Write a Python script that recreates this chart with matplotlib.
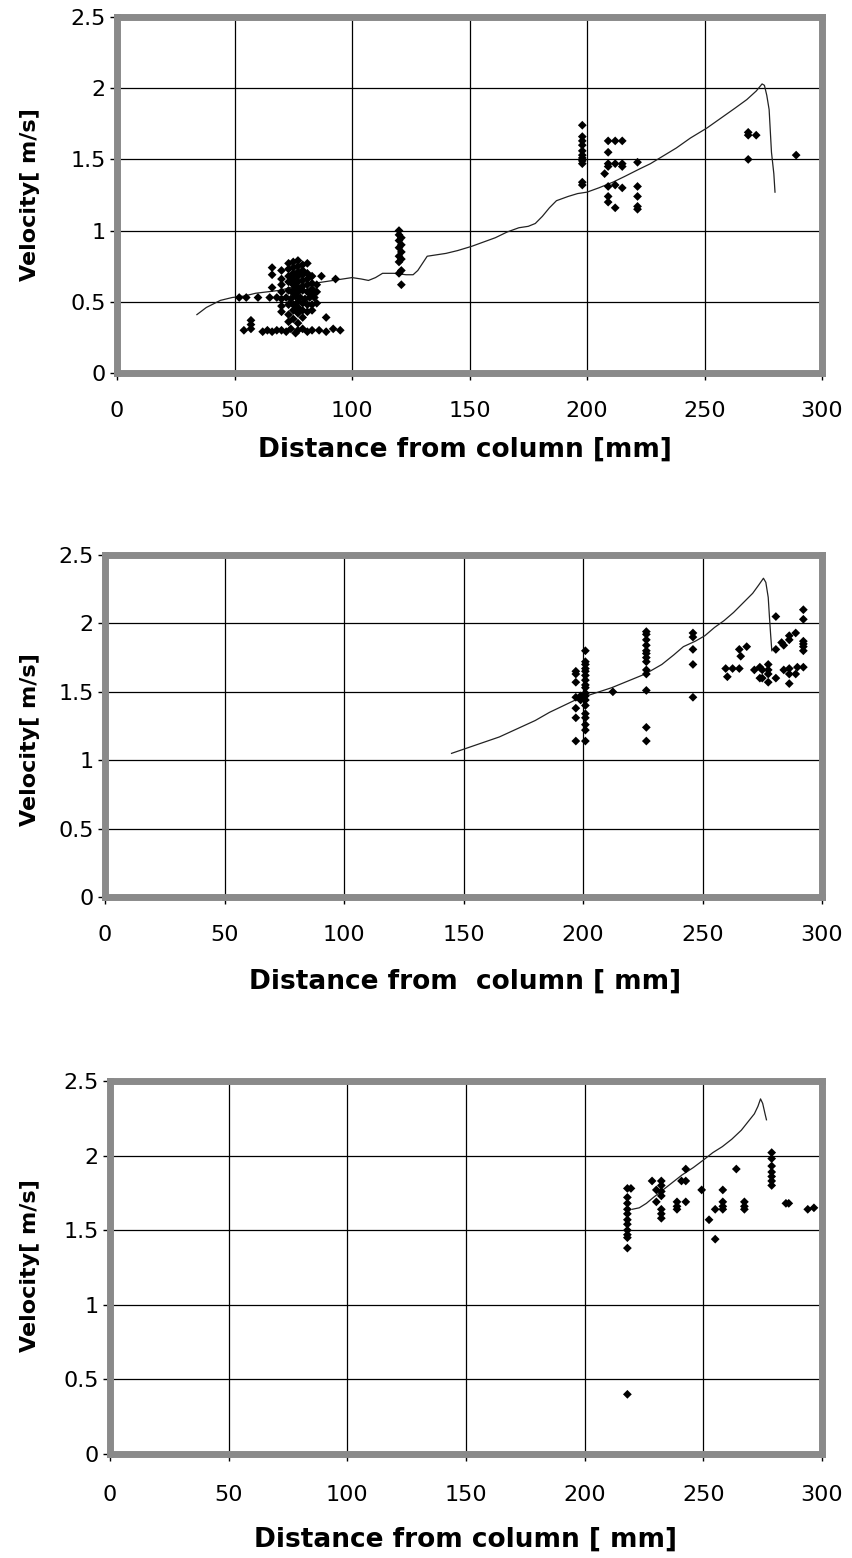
import matplotlib
matplotlib.use("Agg")
import matplotlib.pyplot as plt
from matplotlib.ticker import FuncFormatter

plt.rcParams['font.family'] = ['DejaVu Sans']

# ---------------- data ----------------
# Panel 1 scatter: (x position, [velocities]) columns
p1_cols = [
    (52, [0.53]), (54, [0.30]), (55, [0.53]), (57, [0.37, 0.34, 0.31]),
    (60, [0.53]), (62, [0.29]), (64, [0.30]), (65, [0.53]),
    (66, [0.74, 0.69, 0.60, 0.29]), (68, [0.53, 0.30]),
    (70, [0.72, 0.66, 0.62, 0.57, 0.52, 0.47, 0.43, 0.30]),
    (72, [0.53, 0.29]),
    (73, [0.77, 0.73, 0.68, 0.64, 0.58, 0.48, 0.41, 0.36]),
    (74, [0.52, 0.31]),
    (75, [0.78, 0.74, 0.70, 0.66, 0.62, 0.58, 0.56, 0.48, 0.44, 0.38]),
    (76, [0.54, 0.28]),
    (77, [0.79, 0.75, 0.71, 0.68, 0.64, 0.60, 0.57, 0.50, 0.46, 0.42, 0.35, 0.30]),
    (78, [0.53]),
    (79, [0.76, 0.72, 0.69, 0.65, 0.61, 0.58, 0.49, 0.44, 0.39, 0.31]),
    (80, [0.52]),
    (81, [0.77, 0.70, 0.66, 0.62, 0.57, 0.48, 0.43, 0.29]),
    (82, [0.53]),
    (83, [0.68, 0.63, 0.59, 0.55, 0.48, 0.44, 0.30]),
    (84, [0.53]),
    (85, [0.62, 0.57, 0.49]), (86, [0.30]), (87, [0.68]), (89, [0.39, 0.29]),
    (92, [0.31]), (93, [0.66]), (95, [0.30]),
    (120, [1.00, 0.97, 0.93, 0.88, 0.82, 0.78, 0.70]),
    (121, [0.95, 0.90, 0.85, 0.80, 0.72, 0.62]),
    (198, [1.74, 1.66, 1.63, 1.60, 1.56, 1.53, 1.51, 1.49, 1.47, 1.34, 1.32]),
    (207.5, [1.40]),
    (209, [1.63, 1.55, 1.47, 1.45, 1.31, 1.24, 1.20]),
    (212, [1.63, 1.47, 1.32, 1.16]),
    (215, [1.63, 1.47, 1.45, 1.30]),
    (221.5, [1.48, 1.31, 1.24, 1.17, 1.15]),
    (268.6, [1.69, 1.67, 1.50]), (272, [1.67]), (289, [1.53]),
]
p1_line_x = [34, 38, 44, 49, 54, 59, 64, 69, 74, 79, 84, 88, 92, 96, 100,
             104, 107, 110, 113, 118, 123, 126, 128, 130, 132, 136, 140,
             145, 151, 156, 161, 166, 171, 175, 178, 181, 184, 187, 192,
             196, 200, 205, 211, 216, 222, 227, 232, 238, 244, 251, 257,
             263, 268, 272, 274.5, 275.5, 276.5, 277.5, 278, 278.5, 279.5, 280]
p1_line_y = [0.41, 0.46, 0.51, 0.53, 0.54, 0.56, 0.57, 0.58, 0.60, 0.61,
             0.63, 0.64, 0.65, 0.66, 0.67, 0.66, 0.65, 0.67, 0.70, 0.70,
             0.69, 0.69, 0.72, 0.77, 0.82, 0.83, 0.84, 0.86, 0.89, 0.92,
             0.95, 0.99, 1.02, 1.03, 1.05, 1.10, 1.16, 1.21, 1.24, 1.26,
             1.27, 1.30, 1.34, 1.38, 1.43, 1.47, 1.52, 1.58, 1.65, 1.72,
             1.79, 1.86, 1.92, 1.98, 2.03, 2.02, 1.95, 1.85, 1.70, 1.55,
             1.40, 1.27]

p2_cols = [
    (197, [1.65, 1.63, 1.57, 1.46, 1.38, 1.31, 1.14]),
    (199, [1.47, 1.44]),
    (201, [1.80, 1.72, 1.70, 1.67, 1.65, 1.62, 1.585, 1.55, 1.53, 1.49,
           1.47, 1.44, 1.40, 1.34, 1.31, 1.26, 1.22, 1.14]),
    (212.5, [1.50]),
    (226.5, [1.94, 1.92, 1.88, 1.84, 1.80, 1.78, 1.75, 1.72, 1.66, 1.63,
             1.51, 1.24, 1.14]),
    (246, [1.93, 1.90, 1.81, 1.70, 1.46]),
    (259.7, [1.67]), (260.4, [1.61]), (262.6, [1.67]), (265.4, [1.81, 1.67]),
    (266, [1.76]), (268.5, [1.83]), (271.7, [1.66]), (274, [1.68, 1.60]),
    (275, [1.66, 1.60]), (277.5, [1.70, 1.66, 1.63, 1.57]),
    (280.7, [2.05, 1.81, 1.60]), (283.1, [1.86]), (284, [1.84, 1.66]),
    (286.3, [1.91, 1.88, 1.67, 1.63, 1.56]), (289, [1.93, 1.63]),
    (289.7, [1.68]), (292.2, [2.10, 2.03, 1.87, 1.85, 1.83, 1.80, 1.68]),
]
p2_line_x = [145, 150, 155, 160, 165, 170, 175, 180, 186, 192, 198, 205,
             212, 219, 226, 233, 238, 242, 247, 251, 255, 259, 263, 267,
             271, 273.5, 275.5, 276.5, 277.5, 278, 278.5, 279]
p2_line_y = [1.05, 1.08, 1.11, 1.14, 1.17, 1.21, 1.25, 1.29, 1.35, 1.40,
             1.45, 1.49, 1.53, 1.58, 1.63, 1.70, 1.77, 1.83, 1.87, 1.91,
             1.97, 2.02, 2.08, 2.15, 2.22, 2.28, 2.33, 2.30, 2.19, 2.05,
             1.92, 1.80]

p3_cols = [
    (218, [1.78, 1.72, 1.68, 1.64, 1.61, 1.57, 1.54, 1.50, 1.47, 1.45,
           1.38, 0.40]),
    (219.5, [1.78]),
    (228.4, [1.83]), (230.2, [1.77, 1.69]),
    (232.3, [1.83, 1.80, 1.76, 1.73, 1.64, 1.61, 1.58]),
    (238.9, [1.69, 1.66, 1.64]), (240.8, [1.83]),
    (242.6, [1.91, 1.83, 1.69]),
    (249.3, [1.77]), (252.4, [1.57]), (255, [1.64, 1.44]),
    (258.2, [1.77, 1.69, 1.66, 1.64]), (263.9, [1.91]),
    (267.3, [1.69, 1.66, 1.64]),
    (278.8, [2.02, 1.98, 1.93, 1.89, 1.86, 1.83, 1.80]),
    (284.8, [1.68]), (286, [1.68]), (294, [1.64]), (296.6, [1.65]),
]
p3_line_x = [220, 223, 226, 229, 233, 237, 241, 245.8, 250, 254, 258, 262,
             266, 269, 271.5, 273, 274.1, 275, 276, 276.6]
p3_line_y = [1.64, 1.65, 1.68, 1.72, 1.77, 1.82, 1.87, 1.92, 1.97, 2.02,
             2.06, 2.11, 2.17, 2.23, 2.28, 2.33, 2.38, 2.35, 2.28, 2.24]

x_ticks = [0, 50, 100, 150, 200, 250, 300]
y_ticks = [0, 0.5, 1, 1.5, 2, 2.5]
y_label = "Velocity[ m/s]"
x_labels = ["Distance from column [mm]",
            "Distance from  column [ mm]",
            "Distance from column [ mm]"]

# ---------------- figure ----------------
W, H = 852, 1558
fig = plt.figure(figsize=(W / 100, H / 100), dpi=100)

# axes boxes in pixels: left, top, right, bottom
boxes = [(117, 17, 822, 373), (105, 555, 822, 897), (110, 1081, 822, 1454)]
ylab_pos = [(-0.109, 0.50), (-0.091, 0.46), (-0.098, 0.505)]
xlab_pos = [(0.494, -0.18), (0.502, -0.21), (0.499, -0.195)]
x_pads = [15, 15, 17]

panels = [(p1_cols, p1_line_x, p1_line_y),
          (p2_cols, p2_line_x, p2_line_y),
          (p3_cols, p3_line_x, p3_line_y)]


def fmt(v, _):
    return f"{v:g}"


for i, ((cols, lx, ly), (l, t, r, b)) in enumerate(zip(panels, boxes)):
    ax = fig.add_axes([l / W, 1 - b / H, (r - l) / W, (b - t) / H])
    ax.set_xlim(0, 300)
    ax.set_ylim(0, 2.5)
    ax.set_xticks(x_ticks)
    ax.set_yticks(y_ticks)
    ax.yaxis.set_major_formatter(FuncFormatter(fmt))
    ax.grid(True, color='black', lw=0.9, zorder=1)
    ax.set_axisbelow(True)
    xs, ys = [], []
    for x, yl in cols:
        for y in yl:
            xs.append(x)
            ys.append(y)
    ax.plot(lx, ly, color='#222222', lw=0.9, zorder=3)
    ax.scatter(xs, ys, marker='D', s=20, color='black', edgecolors='none',
               zorder=4)
    for sp in ax.spines.values():
        sp.set_color('#8a8a8a')
        sp.set_linewidth(5)
    ax.tick_params(axis='both', direction='out', length=5, width=1,
                   color='black', labelsize=16)
    ax.tick_params(axis='x', pad=x_pads[i])
    ax.tick_params(axis='y', pad=3)
    ax.set_ylabel(y_label, fontsize=16, fontweight='bold')
    ax.yaxis.set_label_coords(*ylab_pos[i])
    ax.set_xlabel(x_labels[i], fontsize=19, fontweight='bold')
    ax.xaxis.set_label_coords(*xlab_pos[i])

fig.savefig("out.png", dpi=100, facecolor='white')
